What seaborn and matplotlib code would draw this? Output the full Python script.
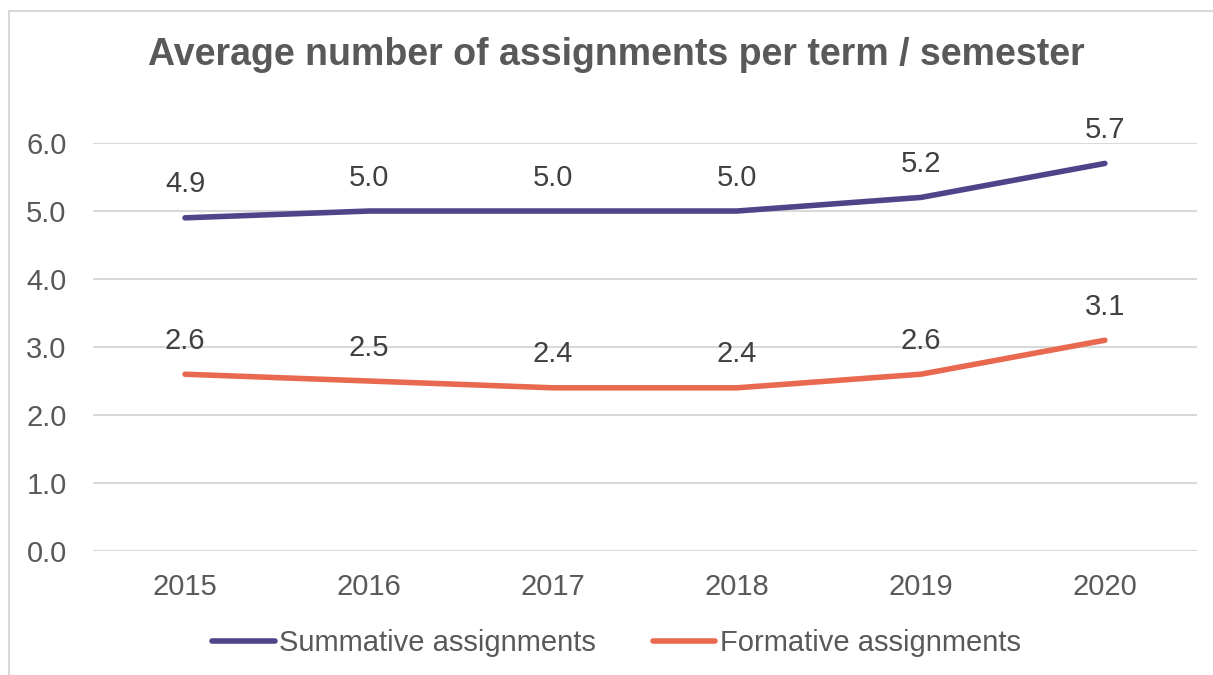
import matplotlib
matplotlib.use("Agg")
import matplotlib.pyplot as plt
import seaborn as sns
import pandas as pd
from matplotlib.patches import Rectangle

# data
years = ["2015", "2016", "2017", "2018", "2019", "2020"]
summative = [4.9, 5.0, 5.0, 5.0, 5.2, 5.7]
formative = [2.6, 2.5, 2.4, 2.4, 2.6, 3.1]
series_names = ["Summative assignments", "Formative assignments"]
colors = ["#51438A", "#E8694F"]

df = pd.concat([
    pd.DataFrame({"year": years, "value": summative, "series": series_names[0]}),
    pd.DataFrame({"year": years, "value": formative, "series": series_names[1]}),
])

sns.set_style("white")
plt.rcParams["font.family"] = ["Liberation Sans", "DejaVu Sans"]
grey = "#595959"

fig = plt.figure(figsize=(12.13, 6.75), dpi=100)
ax = fig.add_axes([0.0767, 0.1837, 0.910, 0.6044])

sns.lineplot(data=df, x="year", y="value", hue="series", palette=colors,
             linewidth=4, sort=False, ax=ax, legend=True)
for line in ax.lines:
    line.set_clip_on(False)
    line.set_solid_capstyle("round")

ax.set_xlim(-0.5, len(years) - 0.5)
ax.set_ylim(0, 6)
ax.set_yticks([0, 1, 2, 3, 4, 5, 6])
ax.set_yticklabels([f"{v:.1f}" for v in range(7)])
ax.yaxis.grid(True, color="#D9D9D9", linewidth=1.5)
ax.set_axisbelow(True)
for s in ax.spines.values():
    s.set_visible(False)
ax.tick_params(axis="both", length=0, labelsize=21, labelcolor=grey)
ax.tick_params(axis="y", pad=19)
ax.tick_params(axis="x", pad=16)
ax.set_xlabel("")
ax.set_ylabel("")

# data labels
for vals in (summative, formative):
    for i, v in enumerate(vals):
        ax.annotate(f"{v:.1f}", (i, v), xytext=(0, 14), textcoords="offset points",
                    ha="center", va="bottom", fontsize=21, color="#404040")

fig.text(0.508, 0.918, "Average number of assignments per term / semester",
         ha="center", va="center", fontsize=27, fontweight="bold", color=grey)

handles, labels = ax.get_legend_handles_labels()
ax.legend(handles, labels, loc="center", bbox_to_anchor=(0.474, -0.225),
          ncol=2, frameon=False, fontsize=21, labelcolor=grey,
          handlelength=2.15, handletextpad=0.15, columnspacing=1.95)

fig.patches.append(Rectangle((9 / 1213, -0.1), 1.2, 1.1 - 11 / 675,
                             transform=fig.transFigure, fill=False,
                             edgecolor="#D9D9D9", linewidth=1.5))

fig.savefig("out.png", dpi=100, facecolor="white")
